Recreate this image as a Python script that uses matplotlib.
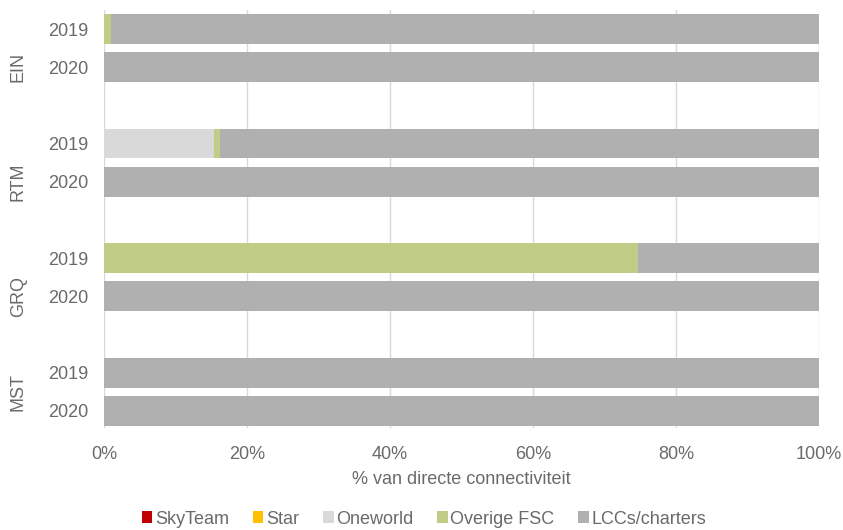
import matplotlib
matplotlib.use("Agg")
import matplotlib.pyplot as plt
from matplotlib.patches import Patch
import numpy as np

plt.rcParams['font.family'] = ['Liberation Sans', 'DejaVu Sans']

# data (% of direct connectivity)
airports = ["EIN", "RTM", "GRQ", "MST"]
years = ["2019", "2020"]
series = ["SkyTeam", "Star", "Oneworld", "Overige FSC", "LCCs/charters"]
colors = ["#C00000", "#FFC000", "#D9D9D9", "#C1CD86", "#B0B0B0"]

# rows: EIN 2019, EIN 2020, RTM 2019, RTM 2020, GRQ 2019, GRQ 2020, MST 2019, MST 2020
skyteam = [0, 0, 0, 0, 0, 0, 0, 0]
star = [0, 0, 0, 0, 0, 0, 0, 0]
oneworld = [0, 0, 15.4, 0, 0, 0, 0, 0]
overige = [1.0, 0, 0.8, 0, 74.7, 0, 0, 0]
lcc = [99.0, 100, 83.8, 100, 25.3, 100, 100, 100]
values = [skyteam, star, oneworld, overige, lcc]

text_col = "#6A6A6A"

fig = plt.figure(figsize=(8.43, 5.30), dpi=100)
ax = fig.add_axes([104 / 843, 1 - 428 / 530, 715 / 843, 418 / 530])

# positions: two bars per airport, one empty slot between groups
pos = []
for i in range(len(airports)):
    pos += [i * 3, i * 3 + 1]
pos = np.array(pos)

left = np.zeros(len(pos))
for name, vals, c in zip(series, values, colors):
    vals = np.array(vals, dtype=float)
    ax.barh(pos, vals, left=left, height=0.78, color=c, label=name, zorder=3)
    left += vals

ax.set_xlim(0, 100)
ax.set_ylim(10.45, -0.5)
ax.set_xticks([0, 20, 40, 60, 80, 100])
ax.set_xticklabels([f"{t}%" for t in [0, 20, 40, 60, 80, 100]])
ax.set_yticks(pos)
ax.set_yticklabels(years * len(airports))
ax.tick_params(axis='x', length=0, pad=13, labelsize=13, labelcolor=text_col)
ax.tick_params(axis='y', length=0, pad=11.5, labelsize=13, labelcolor=text_col)
for s in ax.spines.values():
    s.set_visible(False)
ax.grid(axis='x', color="#D9D9D9", linewidth=1, zorder=0)
ax.set_xlabel("% van directe connectiviteit", fontsize=13, color=text_col, labelpad=6)

# airport group labels, centred on the group's slots (blank slot included, except the last group)
trans = ax.get_yaxis_transform()
for i, a in enumerate(airports):
    last = i * 3 + 2 if i < len(airports) - 1 else i * 3 + 1
    ax.text(-0.12, (i * 3 + last) / 2, a, transform=trans, rotation=90, ha='center',
            va='center', fontsize=13, color=text_col)

handles = [Patch(facecolor=c, edgecolor='none') for c in colors]
fig.legend(handles, series, loc='center', bbox_to_anchor=(424 / 843, 1 - 519 / 530),
           ncol=5, frameon=False, fontsize=13, handlelength=0.6, handleheight=0.6,
           handletextpad=0.15, columnspacing=1.3, labelcolor=text_col)

fig.savefig("out.png", dpi=100)
